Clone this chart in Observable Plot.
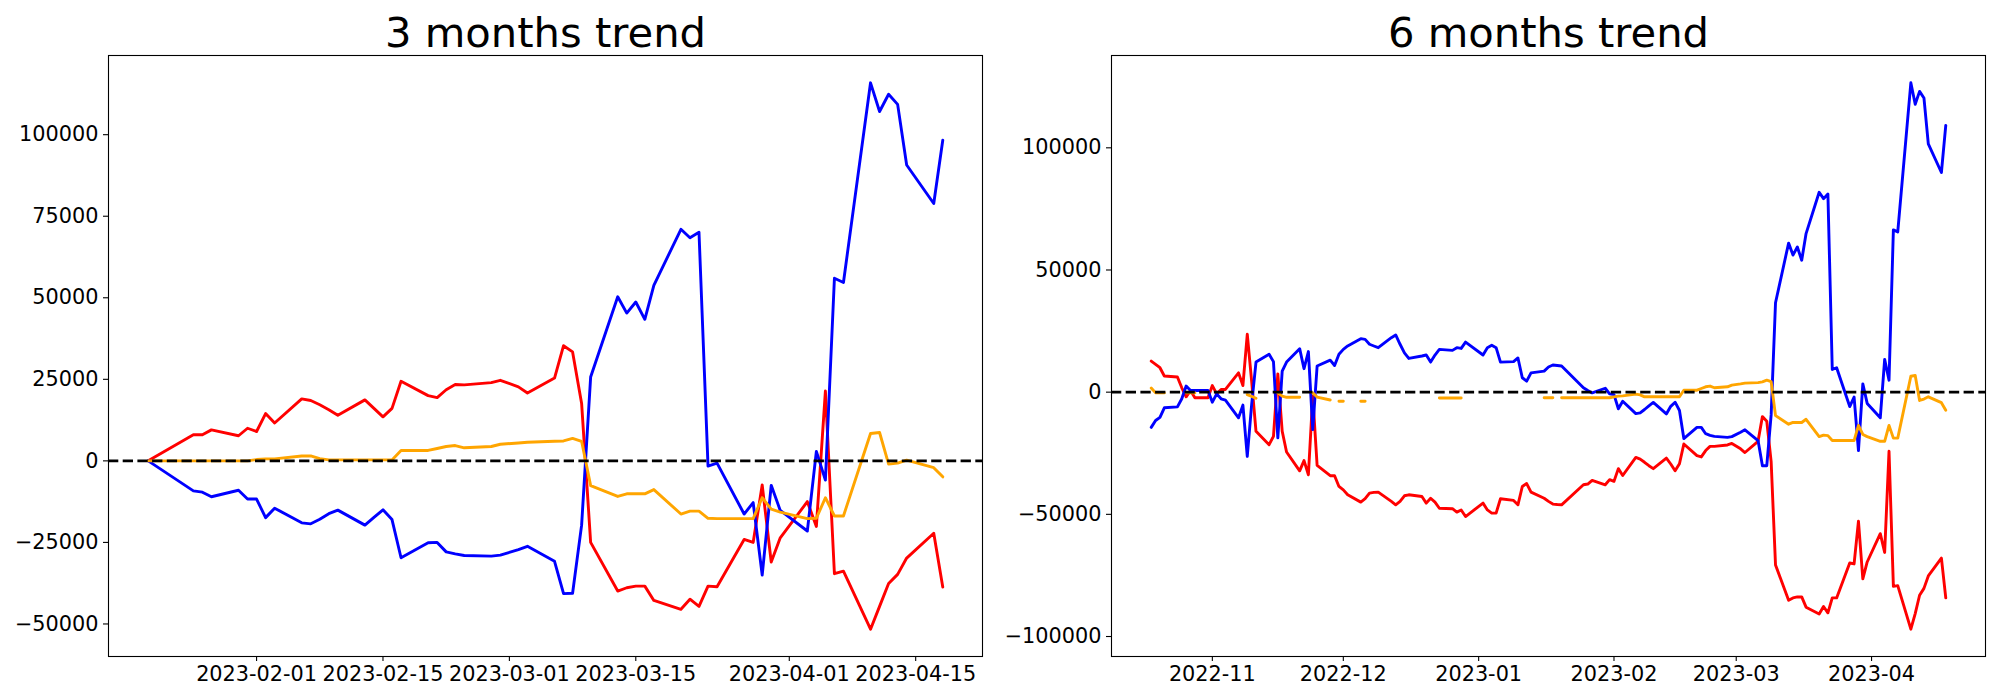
<!DOCTYPE html>
<html><head><meta charset="utf-8">
<script src="https://cdn.jsdelivr.net/npm/d3@7"></script>
<script src="https://cdn.jsdelivr.net/npm/@observablehq/plot@0.6"></script>
<style>
html,body{margin:0;padding:0;background:#fff;}
#wrap{display:flex;width:2000px;height:700px;}
</style></head><body><div id="wrap"></div>
<script>
// ---------- 3 months trend ----------
const titles = ["3 months trend", "6 months trend"];
const dates3m = ["2023-01-20","2023-01-25","2023-01-26","2023-01-27","2023-01-30","2023-01-31",
"2023-02-01","2023-02-02","2023-02-03","2023-02-06","2023-02-07","2023-02-08","2023-02-09","2023-02-10",
"2023-02-13","2023-02-14","2023-02-15","2023-02-16","2023-02-17","2023-02-20","2023-02-21","2023-02-22",
"2023-02-23","2023-02-24","2023-02-27","2023-02-28","2023-03-02","2023-03-03","2023-03-06","2023-03-07",
"2023-03-08","2023-03-09","2023-03-10","2023-03-13","2023-03-14","2023-03-15","2023-03-16","2023-03-17",
"2023-03-20","2023-03-21","2023-03-22","2023-03-23","2023-03-24","2023-03-27","2023-03-28","2023-03-29",
"2023-03-30","2023-03-31","2023-04-03","2023-04-04","2023-04-05","2023-04-06","2023-04-07","2023-04-10",
"2023-04-11","2023-04-12","2023-04-13","2023-04-14","2023-04-17","2023-04-18"];
const red3m = [0,8000,8000,9500,7700,10000,9000,14500,11600,19000,18500,17200,15700,14000,18700,16100,13500,16100,24400,20000,
19400,21800,23400,23300,24000,24700,22700,20800,25400,35300,33400,17600,-25000,-39900,-38900,-38400,-38400,-42800,-45500,-42400,
-44600,-38400,-38600,-24100,-25000,-7400,-31000,-23600,-12500,-20100,21400,-34600,-33800,-51600,-44600,-37600,-34800,-29800,-22200,-38700];
const blue3m = [0,-9200,-9600,-11000,-9000,-11700,-11700,-17400,-14500,-19000,-19300,-17900,-16200,-15100,-19700,-17300,-15000,-18000,-29700,-25100,
-25000,-27900,-28500,-29000,-29200,-28900,-27200,-26200,-30800,-40700,-40600,-19700,25700,50300,45300,48700,43400,53800,71000,68400,
70100,-1600,-700,-16300,-12800,-35000,-7500,-15200,-21500,2900,-5900,56000,54700,115900,107100,112400,109300,90700,78900,98300];
const orange3m = [0,0,0,0,0,0,400,600,600,1500,1500,700,300,300,300,300,300,300,3200,3200,
3800,4400,4700,4000,4400,5100,5500,5700,6000,6100,6900,6000,-7600,-10900,-10100,-10100,-10100,-8800,-16300,-15400,
-15400,-17600,-17700,-17700,-17700,-11300,-14800,-15700,-17700,-17600,-11300,-16900,-16900,8400,8700,-1000,-700,200,-2100,-4900];
const yTicks3m = [-50000,-25000,0,25000,50000,75000,100000];
const xTicks3m = ["2023-02-01","2023-02-15","2023-03-01","2023-03-15","2023-04-01","2023-04-15"];

// ---------- 6 months trend ----------
const dates6m = [
"2022-10-18","2022-10-19","2022-10-20","2022-10-21","2022-10-24","2022-10-25","2022-10-26","2022-10-27","2022-10-28","2022-10-31",
"2022-11-01","2022-11-02","2022-11-03","2022-11-04","2022-11-07","2022-11-08","2022-11-09","2022-11-10","2022-11-11","2022-11-14",
"2022-11-15","2022-11-16","2022-11-17","2022-11-18","2022-11-21","2022-11-22","2022-11-23","2022-11-24","2022-11-25","2022-11-28",
"2022-11-29","2022-11-30",
"2022-12-01","2022-12-02","2022-12-05","2022-12-06","2022-12-07","2022-12-08","2022-12-09","2022-12-12","2022-12-13","2022-12-14",
"2022-12-15","2022-12-16","2022-12-19","2022-12-20","2022-12-21","2022-12-22","2022-12-23","2022-12-26","2022-12-27","2022-12-28",
"2022-12-29",
"2023-01-02","2023-01-03","2023-01-04","2023-01-05","2023-01-06","2023-01-09","2023-01-10","2023-01-11","2023-01-12","2023-01-13",
"2023-01-16","2023-01-17","2023-01-18","2023-01-19","2023-01-20","2023-01-25","2023-01-26","2023-01-27","2023-01-30","2023-01-31",
"2023-02-01","2023-02-02","2023-02-03","2023-02-06","2023-02-07","2023-02-08","2023-02-09","2023-02-10","2023-02-13","2023-02-14",
"2023-02-15","2023-02-16","2023-02-17","2023-02-20","2023-02-21","2023-02-22","2023-02-23","2023-02-24","2023-02-27","2023-02-28",
"2023-03-02","2023-03-03","2023-03-06","2023-03-07","2023-03-08","2023-03-09","2023-03-10","2023-03-13","2023-03-14","2023-03-15",
"2023-03-16","2023-03-17","2023-03-20","2023-03-21","2023-03-22","2023-03-23","2023-03-24","2023-03-27","2023-03-28","2023-03-29",
"2023-03-30","2023-03-31",
"2023-04-03","2023-04-04","2023-04-05","2023-04-06","2023-04-07","2023-04-10","2023-04-11","2023-04-12","2023-04-13","2023-04-14",
"2023-04-17","2023-04-18"];
const red6m = [
12700,11400,10000,6600,6200,1800,-1900,700,-2300,-2300,
2700,-700,1100,1100,7900,2700,23700,4500,-16000,-21500,-18100,7500,-16000,-24500,-32200,-28000,-33800,-1500,-30000,-34200,-34200,-38600,
-40000,-42000,-45000,-43600,-41300,-41000,-40900,-44700,-46100,-44700,-42400,-42000,-42700,-45400,-43400,-45000,-47500,-47700,-49100,-48200,-50900,
-45400,-48200,-49500,-49500,-43600,-44300,-46100,-38600,-37400,-40900,-43400,-44700,-45800,-46000,-46100,-37900,-37600,-36100,-37900,-35800,
-36500,-31300,-34100,-26700,-27400,-28700,-30100,-31300,-27000,-29400,-32200,-29300,-21200,-26000,-26500,-23900,-22200,-22200,-21600,-21000,
-23200,-24700,-20100,-10000,-11900,-28400,-70700,-85200,-84200,-83800,-83800,-88000,-90800,-87700,-90300,-84200,-84200,-69900,-70300,-52800,-76400,-69500,
-57900,-65600,-24200,-79500,-79200,-97000,-90600,-83100,-80300,-75200,-67900,-84200];
const blue6m = [
-14400,-11600,-10300,-6400,-6000,-2700,2500,700,700,700,
-4100,-700,-2700,-3300,-10500,-5300,-26300,-5100,12300,15500,12500,-18700,8600,12300,17800,9600,16600,-15300,10700,13100,10900,15500,
17500,18900,21900,21600,19600,18900,18200,22300,23400,19600,16100,13800,14800,15200,12300,15200,17500,17100,18200,17900,20500,
15200,18200,19200,18200,12300,12500,14000,5900,4500,7900,8600,10300,11100,10900,10700,1800,700,-300,1600,-700,
-1000,-6800,-3700,-8800,-8500,-7100,-5600,-4200,-8900,-5800,-4100,-7500,-19000,-14400,-14400,-17000,-17700,-18100,-18500,-18200,
-16400,-15400,-19800,-30100,-30100,-9300,36600,61000,56100,59400,54000,64900,81800,79200,81100,9300,10000,-5900,-2000,-23900,3400,-4600,
-10500,13400,4900,66400,65600,126600,117800,123100,120400,101600,89900,109200];
const orange6m = [
1700,-300,-300,-300,null,null,-300,-300,-300,null,
null,null,null,null,null,null,-1000,-1700,-2500,null,null,-300,-1600,-2100,-2100,null,null,-300,-2000,-3200,null,-3700,
-3700,null,-3700,-3700,null,null,null,null,null,null,null,null,null,null,null,null,-2400,-2400,-2400,-2400,null,
null,null,null,null,null,null,null,null,null,null,-2300,-2300,-2300,null,-2300,-2300,-2300,-2300,-2300,-2300,
-1900,-1600,-1500,-800,-1100,-1900,-1900,-1900,-1900,-1900,-1900,-1900,800,800,1500,2200,2500,1800,2200,2900,
3400,3700,3900,4200,4900,4300,-9600,-13100,-12400,-12400,-12400,-11100,-18200,-17600,-17800,-19800,-19800,-19800,-19800,-13600,-17300,-18200,
-20100,-20100,-13600,-18800,-18800,6500,6800,-3400,-2800,-1900,-4300,-7400];
const yTicks6m = [-100000,-50000,0,50000,100000];
const xTicks6m = ["2022-11-01","2022-12-01","2023-01-01","2023-02-01","2023-03-01","2023-04-01"];

const parse = s => new Date(s + "T00:00:00Z");

function panel({title, dates, red, blue, orange, yTicks, xTicks, xFormat, marginLeft, marginRight}) {
  const rows = vals => dates.map((d, i) => ({date: parse(d), value: vals[i]}));
  const all = [...red, ...blue, ...orange].filter(v => v != null);
  const [lo, hi] = d3.extent(all);
  const py = (hi - lo) * 0.05;
  const dd = dates.map(parse);
  const [t0, t1] = d3.extent(dd);
  const px = (t1 - t0) * 0.05;
  const lw = 2.9;
  return Plot.plot({
    width: 1000, height: 700,
    marginTop: 55, marginBottom: 44, marginLeft, marginRight,
    style: {fontFamily: "DejaVu Sans", fontSize: "20.8px", background: "white", color: "black"},
    x: {type: "utc", domain: [new Date(+t0 - px), new Date(+t1 + px)], label: null},
    y: {domain: [lo - py, hi + py], label: null},
    marks: [
      Plot.axisY({ticks: yTicks, tickFormat: d3.format("d"), tickSize: 5, tickPadding: 5, label: null, fontSize: 20.8, strokeWidth: 1.1}),
      Plot.axisX({ticks: xTicks.map(parse), tickFormat: d3.utcFormat(xFormat), tickSize: 5, tickPadding: 5, label: null, fontSize: 20.8, strokeWidth: 1.1}),
      Plot.line(rows(red), {x: "date", y: "value", stroke: "red", strokeWidth: lw}),
      Plot.line(rows(blue), {x: "date", y: "value", stroke: "blue", strokeWidth: lw}),
      Plot.line(rows(orange), {x: "date", y: "value", stroke: "orange", strokeWidth: lw}),
      Plot.ruleY([0], {stroke: "black", strokeWidth: 2.7, strokeDasharray: "10.3,4.4"}),
      Plot.frame({stroke: "black", strokeWidth: 1.1}),
      Plot.text([title], {frameAnchor: "top", dy: -8.3, lineAnchor: "bottom", fontSize: 41.7, text: d => d})
    ]
  });
}

const wrap = document.getElementById("wrap");
wrap.append(panel({title: titles[0], dates: dates3m, red: red3m, blue: blue3m, orange: orange3m,
  yTicks: yTicks3m, xTicks: xTicks3m, xFormat: "%Y-%m-%d", marginLeft: 108, marginRight: 18}));
wrap.append(panel({title: titles[1], dates: dates6m, red: red6m, blue: blue6m, orange: orange6m,
  yTicks: yTicks6m, xTicks: xTicks6m, xFormat: "%Y-%m", marginLeft: 111, marginRight: 15}));
</script></body></html>
